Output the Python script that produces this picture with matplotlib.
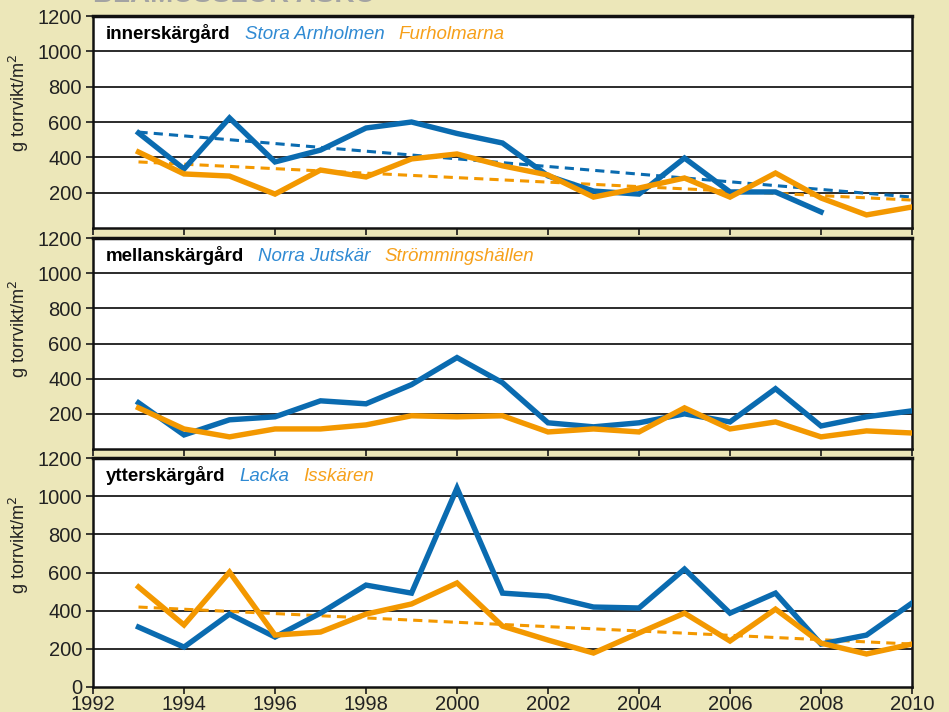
import numpy as np
import matplotlib
matplotlib.use("Agg")
import matplotlib.pyplot as plt
from matplotlib.offsetbox import TextArea, HPacker, AnchoredOffsetbox

plt.rcParams['font.family'] = ['Liberation Sans', 'DejaVu Sans']

years = np.arange(1993, 2011)

# innerskärgård
stora_arnholmen = [538, 334, 623, 374, 441, 566, 600, 535, 481, 295, 209, 192, 396, 204, 204, 91]
furholmarna = [430, 306, 294, 192, 328, 289, 391, 419, 352, 300, 175, 226, 283, 175, 311, 170, 74, 119]
trend_years = [1993, 2010]
trend_stora = [543, 175]
trend_furh = [374, 158]

# mellanskärgård
norra_jutskar = [263, 80, 166, 183, 274, 257, 366, 520, 377, 149, 126, 149, 200, 154, 343, 131, 183, 217]
strommingshallen = [234, 114, 69, 114, 114, 137, 189, 183, 189, 97, 114, 97, 234, 114, 154, 69, 103, 91]

# ytterskärgård
lacka = [314, 209, 382, 262, 387, 534, 492, 1042, 492, 476, 419, 414, 618, 387, 492, 225, 272, 440]
isskaren = [524, 325, 602, 272, 288, 382, 435, 545, 319, 246, 178, 283, 387, 241, 408, 230, 173, 225]
trend_isskaren = [419, 225]

BLUE = '#0A6BB0'
ORANGE = '#F39800'
BLUE_TXT = '#2F8AD3'
ORANGE_TXT = '#F6A01A'
BG = '#ECE7B9'

fig = plt.figure(figsize=(9.49, 7.12), dpi=100, facecolor=BG)

W, H = 949, 712
left = 93 / W
width = 819 / W
panels = [(16, 228), (238, 449), (458, 687)]
axes = []
for top, bot in panels:
    ax = fig.add_axes([left, 1 - bot / H, width, (bot - top) / H])
    axes.append(ax)

# title, cut off at the top edge like in the source
fig.text(93 / W, 1 - 2.5 / H, 'BLÅMUSSLOR ASKÖ', color='#A3A3A3',
         fontsize=20, fontweight='bold', va='baseline', ha='left')

series = [
    ('innerskärgård', 'Stora Arnholmen', 'Furholmarna',
     stora_arnholmen, furholmarna, trend_stora, trend_furh, 0.59),
    ('mellanskärgård', 'Norra Jutskär', 'Strömmingshällen',
     norra_jutskar, strommingshallen, None, None, 0.57),
    ('ytterskärgård', 'Lacka', 'Isskären',
     lacka, isskaren, None, trend_isskaren, 0.62),
]

for i, (ax, (region, s1, s2, b, o, tb, to, ylab_y)) in enumerate(zip(axes, series)):
    ax.set_facecolor('white')
    ax.set_xlim(1992, 2010)
    ax.set_ylim(0, 1200)
    for g in [200, 400, 600, 800, 1000]:
        ax.axhline(g, color='#1a1a1a', lw=1.3, zorder=1)
    if tb is not None:
        ax.plot(trend_years, tb, color=BLUE, lw=2.2, ls=(0, (3, 2)), zorder=2)
    if to is not None:
        ax.plot(trend_years, to, color=ORANGE, lw=2.2, ls=(0, (3, 2)), zorder=2)
    ax.plot(years[:len(b)], b, color=BLUE, lw=3.9, zorder=3,
            solid_joinstyle='miter')
    ax.plot(years[:len(o)], o, color=ORANGE, lw=3.9, zorder=4,
            solid_joinstyle='miter')

    ax.set_xticks(np.arange(1992, 2011, 2))
    if i == 2:
        ax.set_yticks(np.arange(0, 1201, 200))
        ax.tick_params(axis='x', labelsize=14.5, pad=1)
    else:
        ax.set_yticks(np.arange(200, 1201, 200))
        ax.tick_params(axis='x', labelbottom=False)
    ax.tick_params(axis='y', labelsize=14.5, pad=3)
    ax.tick_params(direction='out', length=5, width=1.2, color='#1a1a1a',
                   labelcolor='#222222')
    for side, sp in ax.spines.items():
        sp.set_color('#111111')
        sp.set_linewidth(2.5 if side == 'top' else 1.8)
    ax.set_ylabel('g torrvikt/m$^2$', fontsize=13, color='#222222')
    ax.yaxis.set_label_coords(-0.076, ylab_y)

    boxes = [
        TextArea(region, textprops=dict(fontsize=13.5, fontweight='bold', color='black')),
        TextArea(s1, textprops=dict(fontsize=13.5, style='italic', color=BLUE_TXT)),
        TextArea(s2, textprops=dict(fontsize=13.5, style='italic', color=ORANGE_TXT)),
    ]
    pack = HPacker(children=boxes, align='baseline', pad=0, sep=10)
    anch = AnchoredOffsetbox(loc='upper left', child=pack, pad=0, frameon=False,
                             bbox_to_anchor=(0.016, 0.963), bbox_transform=ax.transAxes,
                             borderpad=0)
    ax.add_artist(anch)

fig.savefig('out.png', dpi=100, facecolor=BG)
